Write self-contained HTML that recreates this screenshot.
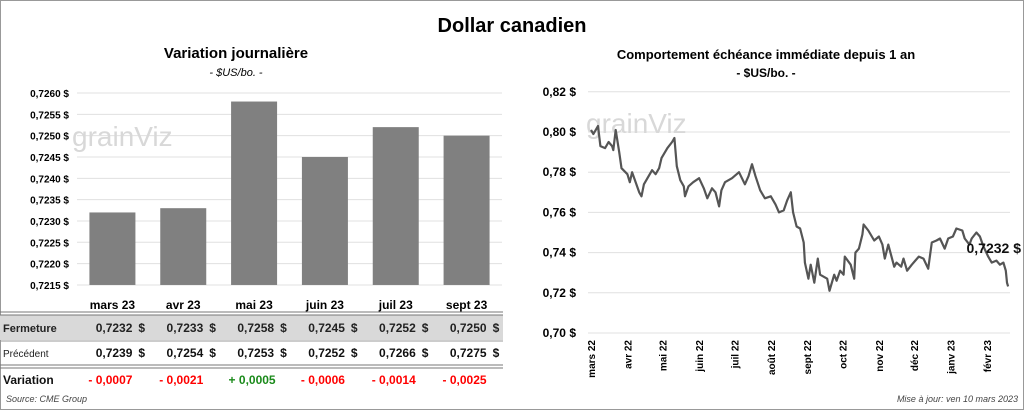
<!DOCTYPE html>
<html><head><meta charset="utf-8"><style>
body{margin:0;background:#fff;}
svg{display:block;font-family:"Liberation Sans",sans-serif;}
</style></head><body>
<svg id="s" width="1024" height="410" viewBox="0 0 1024 410" xmlns="http://www.w3.org/2000/svg">
<rect x="0.5" y="0.5" width="1023" height="409" fill="#fff" stroke="#999"/>
<text x="512" y="32" text-anchor="middle" font-size="20" font-weight="bold">Dollar canadien</text>
<text x="236" y="58" text-anchor="middle" font-size="15" font-weight="bold">Variation  journalière</text>
<text x="236" y="76" text-anchor="middle" font-size="11" font-style="italic">- $US/bo. -</text>
<text x="766" y="59" text-anchor="middle" font-size="13" font-weight="bold">Comportement échéance immédiate depuis 1 an</text>
<text x="766" y="77" text-anchor="middle" font-size="12" font-weight="bold">- $US/bo. -</text>
<g id="left"></g><g id="right"></g><g id="table"></g>
<text x="6" y="402" font-size="9" font-style="italic" fill="#444">Source: CME Group</text>
<text x="1018" y="402" text-anchor="end" font-size="9" font-style="italic" fill="#444">Mise à jour: ven 10 mars 2023</text>
</svg>
<script>
const categories=["mars 23","avr 23","mai 23","juin 23","juil 23","sept 23"];
const closeVals=[0.7232,0.7233,0.7258,0.7245,0.7252,0.7250];
const prevVals=[0.7239,0.7254,0.7253,0.7251,0.7266,0.7275];
const prevShown=[0.7239,0.7254,0.7253,0.7252,0.7266,0.7275];
const leftTicks=[0.7215,0.7220,0.7225,0.7230,0.7235,0.7240,0.7245,0.7250,0.7255,0.7260];
const lineDays=[0,2,6,8,12,15,18,19,21,24,26,31,33,35,41,43,45,49,52,55,58,60,65,69,71,73,76,79,80,83,87,92,96,99,103,106,109,111,114,120,126,131,134,137,140,144,148,153,157,160,164,167,170,172,175,178,181,182,185,187,190,193,195,201,203,207,209,212,215,216,221,224,225,228,231,232,236,241,245,248,250,253,258,260,264,266,269,273,276,279,283,287,290,294,297,301,304,308,311,316,318,322,324,328,331,334,338,341,345,348,351,353,354,355];
const lineVals=[0.801,0.799,0.803,0.793,0.792,0.795,0.793,0.791,0.801,0.790,0.782,0.779,0.775,0.780,0.770,0.768,0.774,0.778,0.781,0.779,0.782,0.787,0.792,0.795,0.797,0.783,0.776,0.773,0.768,0.773,0.775,0.777,0.772,0.767,0.772,0.770,0.763,0.771,0.775,0.777,0.780,0.774,0.778,0.784,0.778,0.771,0.767,0.768,0.764,0.760,0.761,0.766,0.770,0.760,0.753,0.752,0.745,0.735,0.727,0.734,0.725,0.737,0.729,0.727,0.721,0.729,0.726,0.731,0.729,0.738,0.734,0.727,0.740,0.742,0.749,0.754,0.751,0.746,0.748,0.744,0.737,0.744,0.733,0.735,0.733,0.737,0.731,0.734,0.736,0.738,0.737,0.732,0.745,0.746,0.747,0.742,0.747,0.748,0.752,0.751,0.747,0.744,0.747,0.750,0.748,0.743,0.738,0.735,0.736,0.734,0.735,0.731,0.725,0.7232];
const rightTicks=[0.70,0.72,0.74,0.76,0.78,0.80,0.82];
const monthLabels=["mars 22","avr 22","mai 22","juin 22","juil 22","août 22","sept 22","oct 22","nov 22","déc 22","janv 23","févr 23"];
const monthDays=[0,31,61,92,122,153,184,214,245,275,306,337];
const NS="http://www.w3.org/2000/svg";
function mk(tag,attrs,parent,txt){const e=document.createElementNS(NS,tag);for(const k in attrs)e.setAttribute(k,attrs[k]);if(txt!==undefined)e.textContent=txt;parent.appendChild(e);return e;}
const fmt=(v,d)=>v.toFixed(d).replace('.',',');
const L=document.getElementById('left');
const ly=v=>93+(0.7260-v)/0.0005*21.33;
const x0=77,band=425/6;
leftTicks.forEach(t=>{
 const g=mk('line',{x1:x0,x2:502,y1:ly(t),y2:ly(t),stroke:'#e0e0e0'},L);
 
 const tx=mk('text',{x:69,y:ly(t)+4,'text-anchor':'end','font-size':10,'font-weight':'bold'},L,fmt(t,4)+' $');
 
});
const wm=mk('text',{x:72,y:146,'font-size':28,fill:'#d8d8d8'},L,'grainViz');

closeVals.forEach((v,i)=>{
 const cx=x0+band*(i+0.5);
 const r=mk('rect',{x:cx-23,y:ly(v),width:46,height:ly(0.7215)-ly(v),fill:'#808080'},L);
 
});
const T=document.getElementById('table');
const bg=mk('rect',{x:0,y:315,width:503,height:25,fill:'#d9d9d9'},T);

[[312,'#777'],[315,'#777'],[341,'#999'],[365,'#777'],[368,'#777']].forEach(([y,c])=>{
 const l=mk('line',{x1:0,x2:503,y1:y,y2:y,stroke:c,'stroke-width':1},T);
 
});
const r1=mk('text',{x:3,y:332,'font-size':11,'font-weight':'bold',fill:'#222'},T,'Fermeture');

const r2=mk('text',{x:3,y:357,'font-size':10,fill:'#222'},T,'Précédent');

const r3=mk('text',{x:3,y:384,'font-size':12,'font-weight':'bold',fill:'#111'},T,'Variation');

categories.forEach((c,i)=>{
 const cx=x0+band*(i+0.5);
 const h=mk('text',{x:cx,y:309,'text-anchor':'middle','font-size':12,'font-weight':'bold'},T,c);
 
 const a=mk('text',{x:cx+20,y:332,'text-anchor':'end','font-size':12,'font-weight':'bold',fill:'#222'},T,fmt(closeVals[i],4));
 
 const a2=mk('text',{x:cx+26,y:332,'font-size':12,'font-weight':'bold',fill:'#222'},T,'$');
 
 const b=mk('text',{x:cx+20,y:357,'text-anchor':'end','font-size':12,'font-weight':'bold',fill:'#111'},T,fmt(prevShown[i],4));
 
 const b2=mk('text',{x:cx+26,y:357,'font-size':12,'font-weight':'bold',fill:'#111'},T,'$');
 
 const d=Math.round((closeVals[i]-prevVals[i])*10000)/10000;
 const v=mk('text',{x:cx-2,y:384,'text-anchor':'middle','font-size':12,'font-weight':'bold',fill:d>=0?'#1a8a1a':'#ff0000'},T,(d>=0?'+ ':'- ')+fmt(Math.abs(d),4));
 
});
const R=document.getElementById('right');
const ry=v=>333-(v-0.70)/0.02*40.2;
const rx=d=>591+d*1.175;
rightTicks.forEach(t=>{
 const g=mk('line',{x1:588,x2:1010,y1:ry(t),y2:ry(t),stroke:'#e0e0e0'},R);
 
 const tx=mk('text',{x:576,y:ry(t)+4,'text-anchor':'end','font-size':12,'font-weight':'bold'},R,fmt(t,2)+' $');
 
});
const wm2=mk('text',{x:586,y:133,'font-size':28,fill:'#d8d8d8'},R,'grainViz');

monthLabels.forEach((m,i)=>{
 const x=rx(monthDays[i]);
 const t=mk('text',{x:0,y:0,transform:`translate(${x+4},${340}) rotate(-90)`,'text-anchor':'end','font-size':10,'font-weight':'bold'},R,m);
 
});
const pts=lineDays.map((d,i)=>rx(d).toFixed(1)+','+ry(lineVals[i]).toFixed(1)).join(' ');
const pl=mk('polyline',{points:pts,fill:'none',stroke:'#555','stroke-width':2.2,'stroke-linejoin':'round'},R);

const lbl=mk('text',{x:1021,y:253,'text-anchor':'end','font-size':14,'font-weight':'bold',fill:'#111'},R,fmt(lineVals[lineVals.length-1],4)+' $');

</script>
</body></html>
